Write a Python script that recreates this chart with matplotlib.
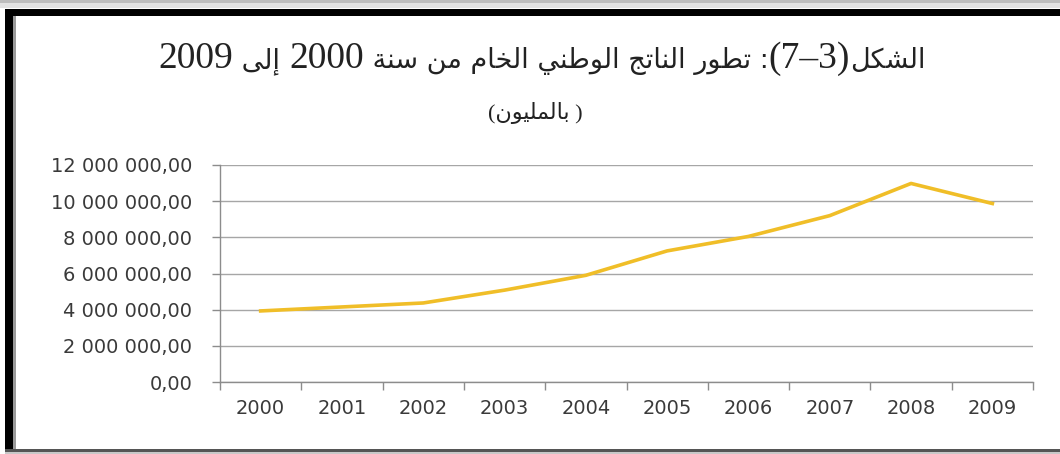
#!/usr/bin/python3

# GNP 2000-2009 line chart (millions), Excel-style, arabic title

import re
import matplotlib
matplotlib.use('Agg')
import matplotlib.pyplot as plt
import matplotlib.patches as mpatches
import matplotlib.ticker as mticker
from matplotlib.offsetbox import TextArea, HPacker, AnchoredOffsetbox

years = ['2000', '2001', '2002', '2003', '2004', '2005', '2006', '2007', '2008', '2009']
gnp = [3930000, 4150000, 4370000, 5080000, 5900000, 7250000, 8050000, 9200000, 10980000, 9870000]
yticks = [0, 2000000, 4000000, 6000000, 8000000, 10000000, 12000000]

title1 = "الشكل(3–7): تطور الناتج الوطني الخام من سنة 2000 إلى 2009"
title2 = "( بالمليون)"

# isolated, final, initial, medial
FORMS = {
    'ا': (0xFE8D, 0xFE8E, None, None),
    'إ': (0xFE87, 0xFE88, None, None),
    'ب': (0xFE8F, 0xFE90, 0xFE91, 0xFE92),
    'ت': (0xFE95, 0xFE96, 0xFE97, 0xFE98),
    'ة': (0xFE93, 0xFE94, None, None),
    'ج': (0xFE9D, 0xFE9E, 0xFE9F, 0xFEA0),
    'خ': (0xFEA5, 0xFEA6, 0xFEA7, 0xFEA8),
    'ر': (0xFEAD, 0xFEAE, None, None),
    'س': (0xFEB1, 0xFEB2, 0xFEB3, 0xFEB4),
    'ش': (0xFEB5, 0xFEB6, 0xFEB7, 0xFEB8),
    'ط': (0xFEC1, 0xFEC2, 0xFEC3, 0xFEC4),
    'ك': (0xFED9, 0xFEDA, 0xFEDB, 0xFEDC),
    'ل': (0xFEDD, 0xFEDE, 0xFEDF, 0xFEE0),
    'م': (0xFEE1, 0xFEE2, 0xFEE3, 0xFEE4),
    'ن': (0xFEE5, 0xFEE6, 0xFEE7, 0xFEE8),
    'و': (0xFEED, 0xFEEE, None, None),
    'ى': (0xFEEF, 0xFEF0, None, None),
    'ي': (0xFEF1, 0xFEF2, 0xFEF3, 0xFEF4),
}
LAMALEF = {'ا': (0xFEFB, 0xFEFC), 'إ': (0xFEF9, 0xFEFA)}


def shape(s):
    # join letters into presentation forms, then lay out right to left
    chars = list(s)
    out = []
    i = 0
    while i < len(chars):
        c = chars[i]
        if c not in FORMS:
            out.append(c)
            i += 1
            continue
        prev = chars[i - 1] if i > 0 else ''
        jp = prev in FORMS and FORMS[prev][2] is not None
        nxt = chars[i + 1] if i + 1 < len(chars) else ''
        if c == 'ل' and nxt in LAMALEF:
            out.append(chr(LAMALEF[nxt][1] if jp else LAMALEF[nxt][0]))
            i += 2
            continue
        jn = nxt in FORMS and FORMS[c][2] is not None
        f = FORMS[c]
        if jp and jn:
            out.append(chr(f[3]))
        elif jp:
            out.append(chr(f[1]))
        elif jn:
            out.append(chr(f[2]))
        else:
            out.append(chr(f[0]))
        i += 1
    vis = ''.join(out)[::-1]
    vis = re.sub(r'[0-9]+', lambda m: m.group()[::-1], vis)
    vis = vis.translate(str.maketrans('()', ')('))
    return vis


fig = plt.figure(figsize=(10.6, 4.54), dpi=100)
fig.patch.set_facecolor('white')

W, H = 1060.0, 454.0


def frect(x0, y0, x1, y1, color):
    # rectangle in pixel coords from top-left
    fig.patches.append(mpatches.Rectangle((x0 / W, 1 - y1 / H), (x1 - x0) / W, (y1 - y0) / H,
                                          transform=fig.transFigure, color=color, lw=0, zorder=0))


frect(0, 0, W, 3, '#bdbdbd')
frect(0, 3, W, 8, '#e2e2e2')
frect(5, 9, W, 16, '#000000')
frect(5, 9, 13, 452, '#000000')
frect(13, 16, 16, 450, '#9a9a9a')
frect(5, 449, W, 452, '#555555')
frect(5, 452, W, H, '#c8c8c8')

# title: latin digits/parens bigger than the arabic words, as in the original
parts = []
for seg in re.split(r'([0-9()–]+)', shape(title1)):
    if not seg:
        continue
    if re.match(r'[0-9()–]', seg):
        props = dict(fontsize=27, family='Liberation Serif', color='#222222')
    else:
        props = dict(fontsize=19.5, family=['DejaVu Sans'], color='#222222')
    parts.append(TextArea(seg, textprops=props))
pack = HPacker(children=parts, align='baseline', pad=0, sep=0)
box = AnchoredOffsetbox(loc='center', child=pack, frameon=False, pad=0, borderpad=0,
                        bbox_to_anchor=(542 / W, 1 - 59 / H), bbox_transform=fig.transFigure)
fig.add_artist(box)

fig.text(535 / W, 1 - 113 / H, shape(title2), ha='center', va='center',
         fontsize=16, family=['Liberation Serif', 'DejaVu Sans'], color='#222222')

ax = fig.add_axes([220 / W, 1 - 382 / H, 813 / W, 217 / H])
x = list(range(len(years)))
ax.plot(x, gnp, color='#F0BE28', lw=2.6, solid_joinstyle='round', zorder=3)

ax.set_xlim(-0.5, len(years) - 0.5)
ax.set_ylim(0, 12000000)
ax.set_yticks(yticks)
ax.yaxis.set_major_formatter(mticker.FuncFormatter(
    lambda v, p: f"{v:,.2f}".replace(',', ' ').replace('.', ',')))
ax.set_xticks(x)
ax.set_xticklabels(years)
ax.set_xticks([i - 0.5 for i in range(len(years) + 1)], minor=True)
ax.tick_params(axis='x', which='major', length=0, pad=12)
ax.tick_params(axis='x', which='minor', length=6, color='#8c8c8c', width=1)
ax.tick_params(axis='y', length=6, color='#8c8c8c', width=1, pad=14)
for lab in ax.get_xticklabels() + ax.get_yticklabels():
    lab.set_fontsize(14)
    lab.set_family('DejaVu Sans')
    lab.set_color('#3a3a3a')

ax.grid(axis='y', color='#a6a6a6', lw=1)
ax.set_axisbelow(True)
for s in ['top', 'right']:
    ax.spines[s].set_visible(False)
for s in ['left', 'bottom']:
    ax.spines[s].set_color('#8c8c8c')
    ax.spines[s].set_linewidth(1)

plt.savefig('out.png', dpi=100)
